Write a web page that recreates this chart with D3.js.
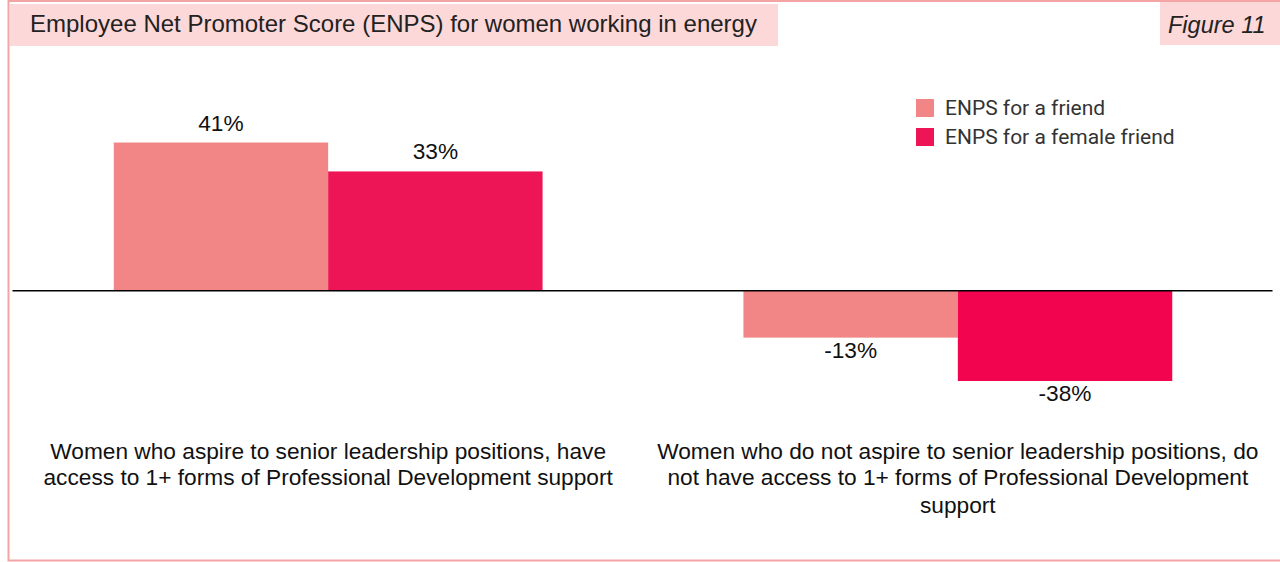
<!DOCTYPE html>
<html>
<head>
<meta charset="utf-8">
<script src="https://cdn.jsdelivr.net/npm/d3@7"></script>
<style>
  body { margin: 0; background: #fff; }
  svg { display: block; }
</style>
</head>
<body>
<div id="chart"></div>
<script>
// Size of the page
var w = 1280;
var h = 562;

// Data
var categories = ["aspire", "notAspire"];
var categoryLines = [
	["Women who aspire to senior leadership positions, have",
	 "access to 1+ forms of Professional Development support"],
	["Women who do not aspire to senior leadership positions, do",
	 "not have access to 1+ forms of Professional Development",
	 "support"]
];
var seriesNames = ["ENPS for a friend", "ENPS for a female friend"];
var friendValues = [41, -13];
var femaleFriendValues = [33, -38];

var seriesColors = ["#F28686", "#EE1556"];

var svg = d3.select("#chart")
			.append("svg")
			.attr("width", w)
			.attr("height", h);

// Frame
svg.append("rect")
	.attr("x", 8.5).attr("y", 1)
	.attr("width", w + 10).attr("height", 559.5)
	.style("fill", "none")
	.style("stroke", "#F4A4A4")
	.style("stroke-width", 2);

// Title box
svg.append("rect")
	.attr("x", 10).attr("y", 4)
	.attr("width", 768).attr("height", 42)
	.style("fill", "#FCD8D8");
svg.append("text")
	.attr("x", 30).attr("y", 32)
	.style("font-family", "'Liberation Sans', Arial, sans-serif")
	.style("font-size", "24px")
	.style("fill", "#222")
	.text("Employee Net Promoter Score (ENPS) for women working in energy");

// Figure box
svg.append("rect")
	.attr("x", 1160).attr("y", 2)
	.attr("width", 120).attr("height", 43)
	.style("fill", "#FCD8D8");
svg.append("text")
	.attr("x", 1168).attr("y", 33)
	.style("font-family", "'Liberation Sans', Arial, sans-serif")
	.style("font-size", "23.5px")
	.style("font-style", "italic")
	.style("fill", "#222")
	.text("Figure 11");

// Scales (axis min is fixed at -25, bars below it are cut off)
var x0 = d3.scaleBand()
			.domain(categories)
			.range([13, 1273])
			.paddingInner(0.319)
			.paddingOuter(0.16);

var x1 = d3.scaleBand()
			.domain([0, 1])
			.range([0, x0.bandwidth()]);

var y = d3.scaleLinear()
			.domain([-25, 50])
			.range([381, 110])
			.clamp(true);

var rows = [];
categories.forEach(function(c, i) {
	rows.push({ cat: c, s: 0, v: friendValues[i] });
	rows.push({ cat: c, s: 1, v: femaleFriendValues[i] });
});

function barColor(d) {
	if (d.s == 1 && d.v < 0) return "#F3044F";
	return seriesColors[d.s];
}

svg.selectAll("rect.bar")
	.data(rows)
	.enter()
	.append("rect")
	.attr("class", "bar")
	.attr("x", function(d) { return x0(d.cat) + x1(d.s); })
	.attr("width", x1.bandwidth())
	.attr("y", function(d) { return Math.min(y(d.v), y(0)); })
	.attr("height", function(d) { return Math.abs(y(d.v) - y(0)); })
	.style("fill", barColor);

// Value labels
svg.selectAll("text.val")
	.data(rows)
	.enter()
	.append("text")
	.attr("class", "val")
	.attr("x", function(d) { return x0(d.cat) + x1(d.s) + x1.bandwidth() / 2; })
	.attr("y", function(d) { return d.v >= 0 ? y(d.v) - 12 : y(d.v) + 20; })
	.attr("text-anchor", "middle")
	.style("font-family", "'Liberation Sans', Arial, sans-serif")
	.style("font-size", "22.7px")
	.style("fill", "#111")
	.text(function(d) { return d.v + "%"; });

// Zero line
svg.append("line")
	.attr("x1", 12.5).attr("x2", 1272.5)
	.attr("y1", y(0)).attr("y2", y(0))
	.style("stroke", "#000")
	.style("stroke-width", 1.5);

// Category labels
var catLabels = svg.selectAll("text.cat")
	.data(categories)
	.enter()
	.append("text")
	.attr("class", "cat")
	.attr("text-anchor", "middle")
	.style("font-family", "'Liberation Sans', Arial, sans-serif")
	.style("font-size", "22.7px")
	.style("fill", "#111");

catLabels.each(function(c, i) {
	var cx = x0(c) + x0.bandwidth() / 2;
	var lineY = [459, 485, 513];
	d3.select(this).selectAll("tspan")
		.data(categoryLines[i])
		.enter()
		.append("tspan")
		.attr("x", cx)
		.attr("y", function(d, j) { return lineY[j]; })
		.text(function(d) { return d; });
});

// Legend
var legend = svg.selectAll("g.legend")
	.data(seriesNames)
	.enter()
	.append("g")
	.attr("class", "legend")
	.attr("transform", function(d, i) { return "translate(916," + (99 + i * 29) + ")"; });

legend.append("rect")
	.attr("width", 18).attr("height", 18)
	.style("fill", function(d, i) { return seriesColors[i]; });

legend.append("text")
	.attr("x", 29).attr("y", 16)
	.style("font-family", "Roboto, sans-serif")
	.style("font-size", "21px")
	.style("fill", "#333")
	.text(function(d) { return d; });
</script>
</body>
</html>
